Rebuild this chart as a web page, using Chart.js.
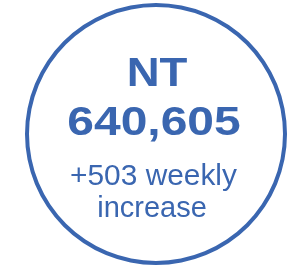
<!DOCTYPE html>
<html lang="en">
<head>
    <meta charset="UTF-8">
    <title>NT total</title>
    <script src="https://cdn.jsdelivr.net/npm/chart.js"></script>
    <style>
        body { margin: 0; background: #fff; }
    </style>
</head>
<body>
    <canvas id="totalChart" width="296" height="267"></canvas>

    <script>
        // values
        const regions = ['NT'];
        const totals = [640605];
        const weeklyIncrease = [503];

        const blue = '#3a66b0';

        // writes the big number and the weekly line inside the ring
        const centerText = {
            id: 'centerText',
            afterDraw(chart) {
                const ctx = chart.ctx;
                const arc = chart.getDatasetMeta(0).data[0];
                const cx = arc.x;
                const top = arc.y - arc.outerRadius;

                const lines = [
                    { text: regions[0], font: 'bold 41px "Liberation Sans", Arial, sans-serif', y: 83, sx: 1.11, dx: 1 },
                    { text: totals[0].toLocaleString('en-US'), font: 'bold 41px "Liberation Sans", Arial, sans-serif', y: 132, sx: 1.17, dx: -2 },
                    { text: '+' + weeklyIncrease[0] + ' weekly', font: '29px "Liberation Sans", Arial, sans-serif', y: 182, sx: 1.03, dx: -2.5 },
                    { text: 'increase', font: '29px "Liberation Sans", Arial, sans-serif', y: 214, sx: 1.0, dx: -4 }
                ];

                ctx.save();
                ctx.fillStyle = blue;
                ctx.textAlign = 'center';
                ctx.textBaseline = 'alphabetic';
                lines.forEach(l => {
                    ctx.save();
                    ctx.font = l.font;
                    ctx.translate(cx + l.dx, top + l.y);
                    ctx.scale(l.sx, 1);
                    ctx.fillText(l.text, 0, 0);
                    ctx.restore();
                });
                ctx.restore();
            }
        };

        const ctx = document.getElementById('totalChart').getContext('2d');
        const chart = new Chart(ctx, {
            type: 'doughnut',
            data: {
                labels: regions,
                datasets: [{
                    data: totals,
                    backgroundColor: blue,
                    borderWidth: 0
                }]
            },
            options: {
                responsive: false,
                animation: false,
                cutout: 127,
                layout: {
                    padding: { left: 25, right: 9, top: 3, bottom: 2 }
                },
                plugins: {
                    legend: { display: false },
                    tooltip: { enabled: false }
                }
            },
            plugins: [centerText]
        });
    </script>
</body>
</html>
